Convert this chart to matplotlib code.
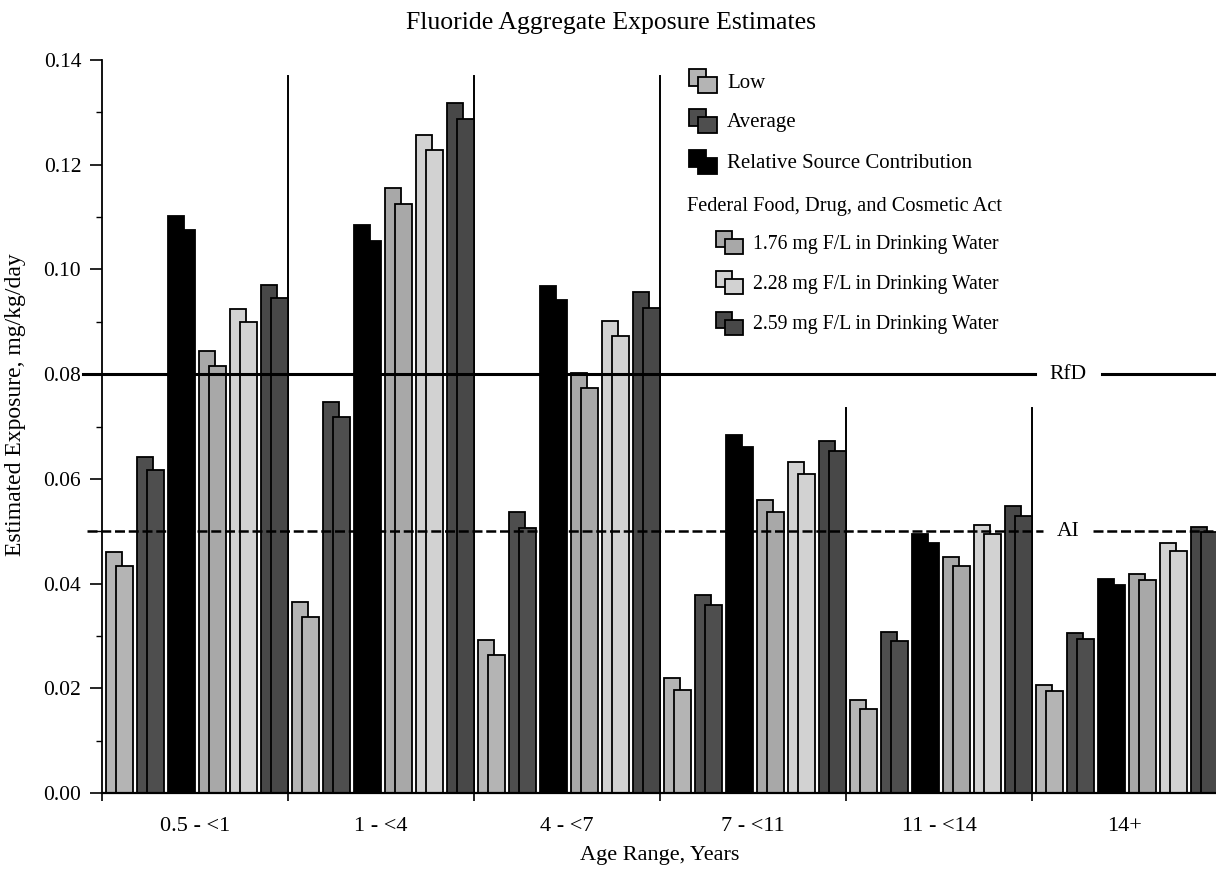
import matplotlib
matplotlib.use("Agg")
import matplotlib.pyplot as plt
from matplotlib.patches import Rectangle
from matplotlib.ticker import MultipleLocator, FormatStrFormatter

plt.rcParams['font.family'] = ['Liberation Serif', 'DejaVu Serif']

# age groups
age_groups = ['0.5 - <1', '1 - <4', '4 - <7', '7 - <11', '11 - <14', '14+']

# each series has a pair of bars per age group: (back, front)
low = [(0.0460, 0.0434), (0.0365, 0.0337), (0.0292, 0.0264),
       (0.0219, 0.0197), (0.0178, 0.0160), (0.0206, 0.0195)]
average = [(0.0642, 0.0617), (0.0747, 0.0719), (0.0536, 0.0507),
           (0.0379, 0.0360), (0.0308, 0.0291), (0.0306, 0.0295)]
rsc = [(0.1102, 0.1075), (0.1085, 0.1055), (0.0968, 0.0942),
       (0.0684, 0.0661), (0.0494, 0.0478), (0.0408, 0.0397)]
ffdca_176 = [(0.0845, 0.0816), (0.1156, 0.1125), (0.0802, 0.0773),
             (0.0560, 0.0537), (0.0451, 0.0434), (0.0418, 0.0407)]
ffdca_228 = [(0.0925, 0.0899), (0.1257, 0.1228), (0.0901, 0.0872),
             (0.0632, 0.0610), (0.0512, 0.0494), (0.0478, 0.0463)]
ffdca_259 = [(0.0970, 0.0945), (0.1317, 0.1287), (0.0956, 0.0927),
             (0.0673, 0.0653), (0.0548, 0.0530), (0.0509, 0.0499)]

rfd = 0.08
ai = 0.05

series = [
    ('Low', low, '#b4b4b4'),
    ('Average', average, '#4e4e4e'),
    ('Relative Source Contribution', rsc, '#000000'),
    ('1.76 mg F/L in Drinking Water', ffdca_176, '#a8a8a8'),
    ('2.28 mg F/L in Drinking Water', ffdca_228, '#d2d2d2'),
    ('2.59 mg F/L in Drinking Water', ffdca_259, '#484848'),
]

W, H = 1216, 873
fig = plt.figure(figsize=(W / 100, H / 100), dpi=100)
ax = fig.add_axes([102 / W, 80 / H, 1116 / W, 733 / H])

# bar geometry inside one age group (group width = 1)
period = 1 / 6
offset = 4 / 186
back_w = 16 / 186
front_dx = 10 / 186
front_w = 17 / 186

for i, (name, vals, color) in enumerate(series):
    for g, (back, front) in enumerate(vals):
        x0 = g + offset + i * period
        ax.bar(x0, back, width=back_w, align='edge', color=color,
               edgecolor='black', linewidth=1.3, zorder=3)
        ax.bar(x0 + front_dx, front, width=front_w, align='edge', color=color,
               edgecolor='black', linewidth=1.3, zorder=4)

# group separators
tops = [0.137, 0.137, 0.137, 0.0735, 0.0735]
for k, top in enumerate(tops, start=1):
    ax.plot([k, k], [0, top], color='black', lw=1.4, zorder=2)

# RfD and AI lines with gaps for labels
x_rfd_gap = ((1035 - 102) / 186, (1102 - 102) / 186)
x_ai_gap = ((1043 - 102) / 186, (1093 - 102) / 186)
ax.plot([-0.1, x_rfd_gap[0]], [rfd, rfd], color='black', lw=2.2, zorder=5, clip_on=False)
ax.plot([x_rfd_gap[1], 6], [rfd, rfd], color='black', lw=2.2, zorder=5, clip_on=False)
ax.plot([-0.08, x_ai_gap[0]], [ai, ai], color='black', lw=1.8, ls=(0, (4, 1.5)),
        zorder=5, clip_on=False)
ax.plot([x_ai_gap[1], 6], [ai, ai], color='black', lw=1.8, ls=(0, (4, 1.5)),
        zorder=5, clip_on=False)
ax.text(sum(x_rfd_gap) / 2, rfd, 'RfD', ha='center', va='center', fontsize=15.5)
ax.text(sum(x_ai_gap) / 2, ai, 'AI', ha='center', va='center', fontsize=15.5)

ax.set_xlim(0, 6)
ax.set_ylim(0, 0.14)
ax.yaxis.set_major_locator(MultipleLocator(0.02))
ax.yaxis.set_minor_locator(MultipleLocator(0.01))
ax.yaxis.set_major_formatter(FormatStrFormatter('%.2f'))
ax.set_xticks(range(7))
ax.set_xticklabels([''] * 7)
ax.set_xticks([g + 0.5 for g in range(6)], minor=True)
ax.set_xticklabels(age_groups, minor=True)
ax.tick_params(axis='x', which='major', direction='out', length=6, width=1.2)
ax.tick_params(axis='x', which='minor', length=0, pad=17, labelsize=16)
ax.tick_params(axis='y', which='major', direction='out', length=9, width=1.2,
               labelsize=15.5, pad=6)
ax.tick_params(axis='y', which='minor', direction='out', length=4, width=1)

for s in ['top', 'right']:
    ax.spines[s].set_visible(False)
ax.spines['left'].set_linewidth(1.3)
ax.spines['bottom'].set_linewidth(1.6)
ax.spines['bottom'].set_zorder(6)

ax.set_ylabel('Estimated Exposure, mg/kg/day', fontsize=17)
ax.yaxis.set_label_coords(-76 / 1116, 0.53)
ax.set_xlabel('Age Range, Years', fontsize=16)
ax.xaxis.set_label_coords(0.5, -53 / 733)
fig.text(611 / W, 1 - 23 / H, 'Fluoride Aggregate Exposure Estimates',
         ha='center', va='center', fontsize=18.5)


# custom legend with two-square icons
def icon(px, py, color, size=17):
    back = Rectangle((px / W, 1 - (py + size) / H), size / W, size / H,
                     transform=fig.transFigure, facecolor=color, edgecolor='black', lw=1.3)
    front = Rectangle(((px + 9) / W, 1 - (py + size + 7) / H), (size + 2) / W, (size - 1) / H,
                      transform=fig.transFigure, facecolor=color, edgecolor='black', lw=1.3)
    fig.patches.extend([back, front])


main_rows = [83, 123, 164]
for (name, vals, color), y in zip(series[:3], main_rows):
    icon(689, y - 14, color)
    fig.text(727 / W, 1 - y / H, name, ha='left', va='center', fontsize=15)

fig.text(687 / W, 1 - 206 / H, 'Federal Food, Drug, and Cosmetic Act',
         ha='left', va='center', fontsize=14.7)
sub_rows = [244, 284, 325]
for (name, vals, color), y in zip(series[3:], sub_rows):
    icon(716, y - 13, color, size=16)
    fig.text(753 / W, 1 - y / H, name, ha='left', va='center', fontsize=14.2)

fig.savefig('out.png', dpi=100)
